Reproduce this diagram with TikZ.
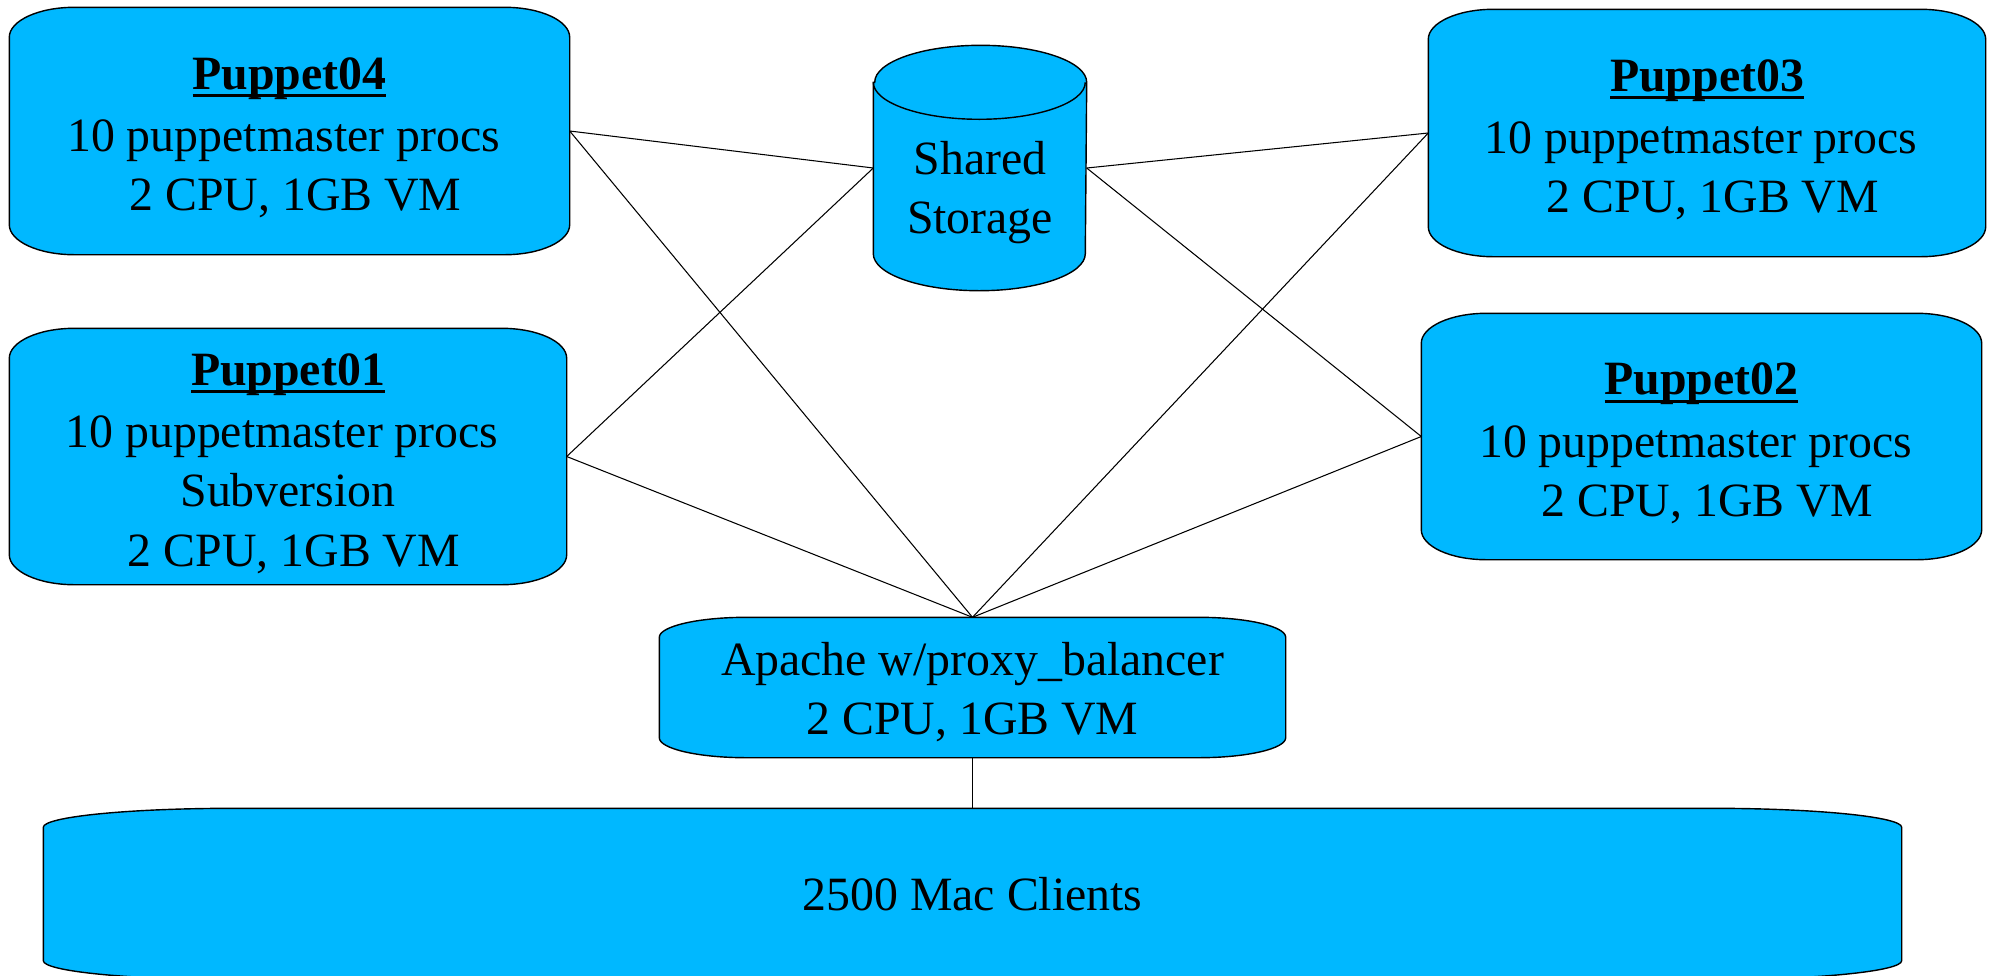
\documentclass[tikz,border=0pt]{standalone}
\usepackage{fontspec}
\setmainfont{Liberation Serif}
\usetikzlibrary{calc,backgrounds}

\definecolor{vmblue}{RGB}{0,184,255}

% bold title with a thick underline
\newcommand{\hosttitle}[1]{\rule{0pt}{13pt}\setbox0\hbox{\textbf{#1}}\rlap{\rule[-2.2pt]{\wd0}{0.75pt}}\box0}

\tikzset{
  vm/.style={align=center, inner sep=0pt, font=\fontsize{13.6}{16.8}\selectfont},
  shell/.style={fill=vmblue, draw=black, line width=0.4pt},
  link/.style={draw=black, line width=0.3pt},
}

\begin{document}
\begin{tikzpicture}
            \useasboundingbox (0,0) rectangle (19.91,-9.75);

            % Puppet masters
            \node[vm, minimum width=5.59cm, minimum height=2.46cm] (p4) at (2.895,-1.31)
                {\hosttitle{Puppet04}\\[1pt]10 puppetmaster procs\kern.25em\\\kern.25em2 CPU, 1GB VM};
            \node[vm, minimum width=5.56cm, minimum height=2.46cm] (p3) at (17.07,-1.33)
                {\hosttitle{Puppet03}\\[1pt]10 puppetmaster procs\kern.25em\\\kern.25em2 CPU, 1GB VM};
            \node[vm, minimum width=5.56cm, minimum height=2.55cm] (p1) at (2.88,-4.565)
                {\hosttitle{Puppet01}\\[1pt]10 puppetmaster procs\kern.25em\\Subversion\\\kern.25em2 CPU, 1GB VM};
            \node[vm, minimum width=5.59cm, minimum height=2.45cm] (p2) at (17.015,-4.365)
                {\hosttitle{Puppet02}\\[1pt]10 puppetmaster procs\kern.25em\\\kern.25em2 CPU, 1GB VM};

            % Storage, balancer, clients
            \node[vm, minimum width=2.12cm, minimum height=2.44cm] (st) at (9.80,-1.68) {};
            \node[vm] (stlabel) at ($(st.center)+(0,-0.25)$) {Shared\\Storage};
            \node[vm, minimum width=6.25cm, minimum height=1.39cm] (ap) at (9.725,-6.875)
                {\rule{0pt}{12pt}Apache w/proxy\_balancer\\2 CPU, 1GB VM};
            \node[vm, minimum width=18.57cm, minimum height=1.70cm] (cl) at (9.725,-8.94)
                {2500 Mac Clients};

            \begin{scope}[on background layer]
                % Box outlines
                \foreach \n/\rx/\ry in {p4/0.65/0.30, p3/0.65/0.30, p1/0.65/0.30, p2/0.65/0.30, ap/0.87/0.20, cl/1.90/0.19} {
                    \draw[shell] ($(\n.north west)+(0,-\ry)$)
                        arc[start angle=180, end angle=90, x radius=\rx, y radius=\ry]
                        -- ($(\n.north east)+(-\rx,0)$)
                        arc[start angle=90, end angle=0, x radius=\rx, y radius=\ry]
                        -- ($(\n.south east)+(0,\ry)$)
                        arc[start angle=0, end angle=-90, x radius=\rx, y radius=\ry]
                        -- ($(\n.south west)+(\rx,0)$)
                        arc[start angle=270, end angle=180, x radius=\rx, y radius=\ry]
                        -- cycle;
                }
                % Cylinder
                \draw[shell] ($(st.north west)+(0,-0.37)$) -- ($(st.south west)+(0,0.37)$)
                    arc[start angle=180, end angle=360, x radius=1.06, y radius=0.37]
                    -- ($(st.north east)+(0,-0.37)$)
                    arc[start angle=0, end angle=180, x radius=1.06, y radius=0.37] -- cycle;
                \draw[line width=0.4pt] ($(st.north west)+(0,-0.37)$)
                    arc[start angle=180, end angle=360, x radius=1.06, y radius=0.37];
            \end{scope}

            % Links
            \draw[link] (p4.east) -- (st.west);
            \draw[link] (p4.east) -- (ap.north);
            \draw[link] (p1.east) -- (st.west);
            \draw[link] (p1.east) -- (ap.north);
            \draw[link] (st.east) -- (p3.west);
            \draw[link] (st.east) -- (p2.west);
            \draw[link] (p3.west) -- (ap.north);
            \draw[link] (p2.west) -- (ap.north);
            \draw[link] (ap.south) -- (cl.north);
        \end{tikzpicture}
\end{document}
